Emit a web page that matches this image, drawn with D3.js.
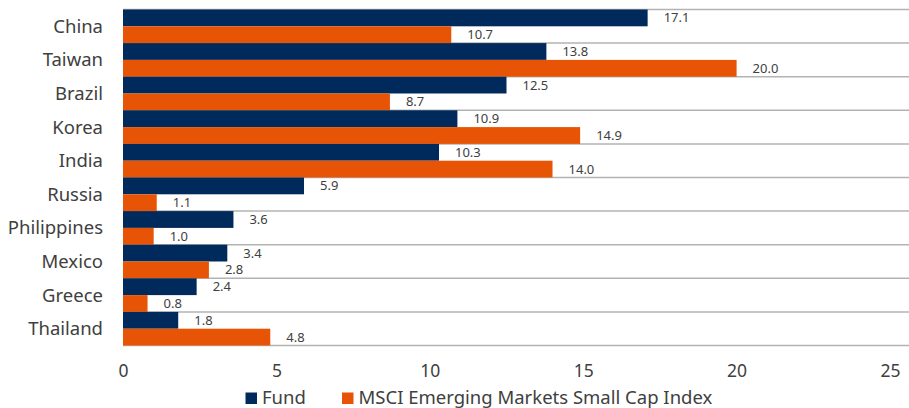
<!DOCTYPE html>
<html>
<head>
<meta charset="utf-8">
<script src="https://cdn.jsdelivr.net/npm/d3@7"></script>
<style>
  body { margin: 0; background: #fff; }
  svg { display: block; font-family: "Noto Sans", "Open Sans", sans-serif; }
</style>
</head>
<body>
<div id="chart"></div>
<script>
const countries = ['China', 'Taiwan', 'Brazil', 'Korea', 'India', 'Russia', 'Philippines', 'Mexico', 'Greece', 'Thailand'];
const fund = [17.1, 13.8, 12.5, 10.9, 10.3, 5.9, 3.6, 3.4, 2.4, 1.8];
const index = [10.7, 20.0, 8.7, 14.9, 14.0, 1.1, 1.0, 2.8, 0.8, 4.8];
const xTicks = [0, 5, 10, 15, 20, 25];
const seriesNames = ['Fund', 'MSCI Emerging Markets Small Cap Index'];
const colors = ['#002a5c', '#e85405'];

const width = 909;
const height = 408;

const svg = d3.select('#chart')
.append('svg')
.attr('width', width)
.attr('height', height);

const scaleX = d3.scaleLinear()
.domain([0, 25])
.range([123, 890]);

const scaleY = d3.scaleBand()
.domain(countries)
.range([9.5, 345.5])
.padding(0);

const scaleSub = d3.scaleBand()
.domain([0, 1])
.range([0, scaleY.bandwidth()]);

// gridlines at category boundaries
const bounds = countries.map(c => scaleY(c)).concat([scaleY.range()[1]]);
svg.append('g')
.selectAll('line')
.data(bounds)
.join('line')
.attr('x1', scaleX(0))
.attr('x2', width)
.attr('y1', d => d)
.attr('y2', d => d)
.attr('stroke', '#b3b3b3')
.attr('stroke-width', 1.5);

const rows = countries.map((c, i) => ({ country: c, values: [fund[i], index[i]] }));

const groups = svg.append('g')
.selectAll('g')
.data(rows)
.join('g')
.attr('transform', d => `translate(0, ${scaleY(d.country)})`);

groups.selectAll('rect')
.data(d => d.values.map((v, k) => ({ v, k })))
.join('rect')
.attr('x', scaleX(0))
.attr('y', d => scaleSub(d.k))
.attr('width', d => scaleX(d.v) - scaleX(0))
.attr('height', scaleSub.bandwidth())
.attr('fill', d => colors[d.k]);

groups.selectAll('text.val')
.data(d => d.values.map((v, k) => ({ v, k })))
.join('text')
.attr('class', 'val')
.attr('x', d => scaleX(d.v) + 16)
.attr('y', d => scaleSub(d.k) + scaleSub.bandwidth() / 2)
.attr('dy', '0.35em')
.attr('font-size', 13)
.attr('fill', '#404040')
.text(d => d.v.toFixed(1));

// category labels
svg.append('g')
.selectAll('text')
.data(countries)
.join('text')
.attr('x', 103)
.attr('y', d => scaleY(d) + scaleY.bandwidth() / 2)
.attr('dy', '0.35em')
.attr('text-anchor', 'end')
.attr('font-size', 18.5)
.attr('fill', '#404040')
.text(d => d);

// x axis
const axisX = d3.axisBottom(scaleX)
.tickValues(xTicks)
.tickSize(0)
.tickPadding(0)
.tickFormat(d3.format('d'));

const gx = svg.append('g')
.attr('transform', 'translate(0, 365)')
.call(axisX);
gx.select('.domain').remove();
gx.selectAll('text')
.attr('font-size', 17.5)
.attr('font-family', '"Noto Sans", "Open Sans", sans-serif')
.attr('fill', '#404040');

// legend
const legendX = [245.5, 342];
const legend = svg.append('g')
.selectAll('g')
.data(seriesNames)
.join('g')
.attr('transform', (d, i) => `translate(${legendX[i]}, 392.5)`);

legend.append('rect')
.attr('width', 11.5)
.attr('height', 11.5)
.attr('fill', (d, i) => colors[i]);

legend.append('text')
.attr('x', 16.5)
.attr('y', 5.5)
.attr('dy', '0.35em')
.attr('font-size', 18.5)
.attr('fill', '#404040')
.text(d => d);
</script>
</body>
</html>
